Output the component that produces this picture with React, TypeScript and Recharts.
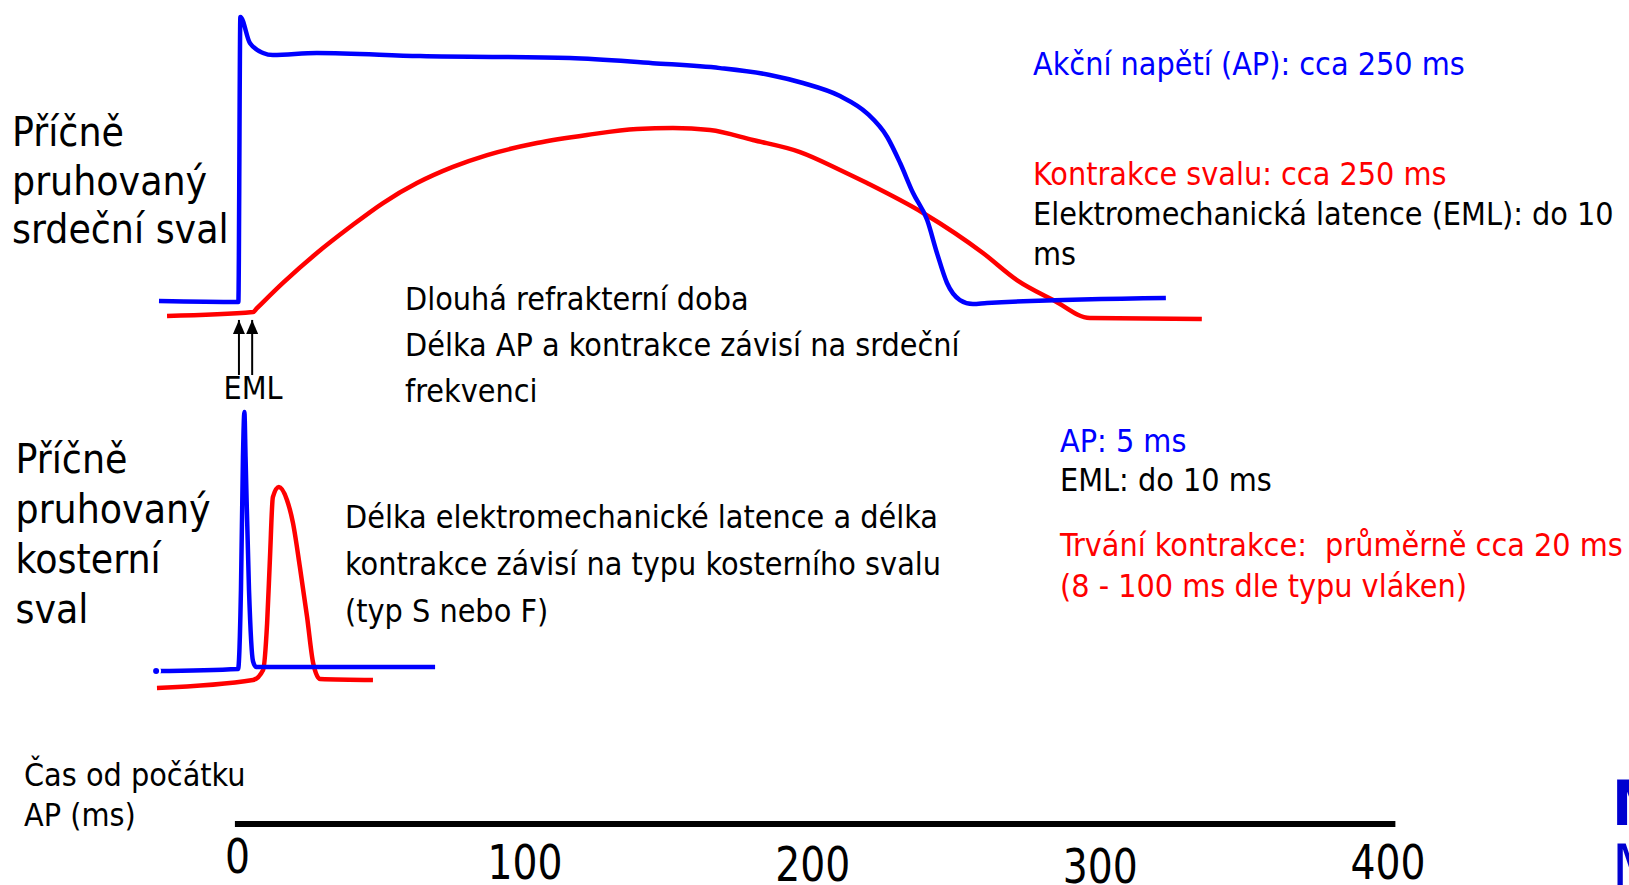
import React from 'react';
import { ComposedChart, Line, XAxis, YAxis, ReferenceLine, ReferenceDot } from 'recharts';

// Čas v ms, napětí v mV, síla kontrakce v % maxima
const HEART_AP_T = [-27.3, 0.3, 1.0, 4.3, 8.9, 12.3, 27.6, 63.5, 115.6, 144.4, 167.8, 185.1, 196.6, 209.5, 218.9, 225.9, 230.4, 234.9, 239.8, 243.2, 246.7, 251.2, 255.7, 260.6, 322.8];
const HEART_AP_MV = [-90, -90.4, 30, 19, 14.8, 13.9, 14.8, 13.5, 12.7, 10.5, 8.4, 5.5, 2.1, -3.4, -10.7, -20.7, -31.7, -44.4, -55.8, -69.7, -82.4, -89.6, -91.3, -90.8, -88.7];

const HEART_FORCE_T = [-24.5, 5.4, 6.6, 15.8, 27.6, 39.1, 50.6, 62.4, 74.9, 86.8, 104.1, 121.5, 138.9, 151.4, 164.3, 179.2, 195.6, 209.5, 218.9, 238.4, 259.2, 271.0, 283.6, 296.4, 335.3];
const HEART_FORCE = [0, 2.1, 3.9, 17.6, 33.5, 47.3, 60.1, 70.7, 79.3, 85.6, 92.0, 96.3, 99.5, 100, 98.9, 93.6, 87.2, 77.7, 70.7, 54.8, 33.5, 19.1, 8.5, -1.1, -1.6];

const SKEL_AP_T = [-28.3, 0.2, 1.2, 1.9, 2.4, 2.8, 4.0, 5.4, 6.5, 68.7];
const SKEL_AP_MV = [-90.5, -89.5, -52.8, 9.1, 30, 9.1, -52.8, -86, -88.6, -88.6];

const SKEL_FORCE_T = [-28.0, 5.4, 8.9, 10.3, 11.3, 12.3, 14.4, 17.2, 19.3, 21.7, 24.2, 26.3, 28.7, 47.1];
const SKEL_FORCE = [-4.1, 0, 5.2, 29.5, 63.7, 94.8, 100, 93.3, 81.3, 58.5, 32.6, 8.8, 0.5, 0];

const TIME_TICKS = [0, 100, 200, 300, 400];
const AXIS_SPAN = [-0.9, 402.6];
const EML_ARROWS_T = [0.5, 5.1];
const ARROW_TIP = -2.1;
const ARROW_TAIL = -31.4;

const zip = (t: number[], v: number[]) => t.map((x, i) => ({ t: x, v: v[i] }));

const W = 1629;
const H = 885;
const PLOT_H = 824;
const ZERO_PX = 237.5;
const PX_PER_MS = 2.876;
const FONT = "'DejaVu Sans Condensed', 'DejaVu Sans', sans-serif";
const BLUE = '#0000ff';
const RED = '#ff0000';

// doména skryté osy y tak, aby dvě hodnoty padly na dané pixely
function domainFrom(hiVal: number, hiPx: number, loVal: number, loPx: number): [number, number] {
  const k = (loPx - hiPx) / (hiVal - loVal);
  const max = hiVal + hiPx / k;
  return [max - PLOT_H / k, max];
}

const TICK_DY: Record<number, number> = { 0: 49, 100: 55, 200: 57, 300: 59, 400: 55 };

function TimeTick(props: any) {
  const { x, y, payload } = props;
  const label = String(payload.value);
  return (
    <text
      x={x}
      y={y + (TICK_DY[payload.value] ?? 55)}
      textAnchor="middle"
      fontFamily={FONT}
      fontSize={48}
      fill="#000"
      textLength={label.length * 25}
      lengthAdjust="spacingAndGlyphs"
    >
      {label}
    </text>
  );
}

function TextBlock({ x, baseline, size = 32, lh = 40, color = '#000', lines, center = false, bold = false }: any) {
  const top = baseline - ((lh - 1.164 * size) / 2 + 0.928 * size);
  return (
    <div
      style={{
        position: 'absolute',
        left: x,
        top,
        fontFamily: FONT,
        fontStretch: 'condensed',
        fontSize: size,
        fontWeight: bold ? 'bold' : 'normal',
        lineHeight: `${lh}px`,
        color,
        whiteSpace: 'pre',
        transform: center ? 'translateX(-50%)' : undefined,
        textAlign: center ? 'center' : 'left',
      }}
    >
      {lines.map((l: string, i: number) => (
        <div key={i}>{l}</div>
      ))}
    </div>
  );
}

export default function App() {
  return (
    <div style={{ position: 'absolute', left: 0, top: 0, width: W, height: H, overflow: 'hidden', background: '#fff' }}>
      <ComposedChart width={W} height={H} margin={{ top: 0, right: 0, bottom: 0, left: 0 }}>
        <XAxis
          type="number"
          dataKey="t"
          domain={[-ZERO_PX / PX_PER_MS, (W - ZERO_PX) / PX_PER_MS]}
          allowDataOverflow
          ticks={TIME_TICKS}
          height={H - PLOT_H}
          axisLine={false}
          tickLine={false}
          tickSize={0}
          tickMargin={0}
          tick={<TimeTick />}
          interval={0}
        />
        <YAxis yAxisId="heartAP" type="number" hide allowDataOverflow domain={domainFrom(30, 17, -90, 301)} />
        <YAxis yAxisId="heartForce" type="number" hide allowDataOverflow domain={domainFrom(100, 128, 0, 316)} />
        <YAxis yAxisId="skelAP" type="number" hide allowDataOverflow domain={domainFrom(30, 412, -90, 670)} />
        <YAxis yAxisId="skelForce" type="number" hide allowDataOverflow domain={domainFrom(100, 487, 0, 680)} />
        <YAxis yAxisId="base" type="number" hide allowDataOverflow domain={[0, 1]} />

        <ReferenceLine
          yAxisId="base"
          segment={[{ x: AXIS_SPAN[0], y: 0 }, { x: AXIS_SPAN[1], y: 0 }]}
          stroke="#000"
          strokeWidth={6}
        />

        <Line yAxisId="heartForce" data={zip(HEART_FORCE_T, HEART_FORCE)} dataKey="v" type="monotone" stroke={RED} strokeWidth={4.5} dot={false} isAnimationActive={false} />
        <Line yAxisId="heartAP" data={zip(HEART_AP_T, HEART_AP_MV)} dataKey="v" type="monotone" stroke={BLUE} strokeWidth={4.5} dot={false} isAnimationActive={false} />
        <Line yAxisId="skelForce" data={zip(SKEL_FORCE_T, SKEL_FORCE)} dataKey="v" type="monotone" stroke={RED} strokeWidth={4.5} dot={false} isAnimationActive={false} />
        <Line yAxisId="skelAP" data={zip(SKEL_AP_T, SKEL_AP_MV)} dataKey="v" type="monotone" stroke={BLUE} strokeWidth={4.5} dot={false} isAnimationActive={false} />

        {/* šipky EML */}
        {EML_ARROWS_T.map((t) => (
          <ReferenceLine
            key={`s-${t}`}
            yAxisId="heartForce"
            segment={[{ x: t, y: ARROW_TAIL }, { x: t, y: ARROW_TIP }]}
            stroke="#000"
            strokeWidth={2}
          />
        ))}
        {EML_ARROWS_T.map((t) => (
          <ReferenceDot
            key={`h-${t}`}
            yAxisId="heartForce"
            x={t}
            y={ARROW_TIP}
            shape={(p: any) => <path d={`M${p.cx},${p.cy} l6,14 l-12,0 z`} fill="#000" />}
          />
        ))}
      </ComposedChart>

      <TextBlock x={12} baseline={146.7} size={40.5} lh={48.5} lines={['Příčně', 'pruhovaný', 'srdeční sval']} />
      <TextBlock x={15.5} baseline={473} size={40.5} lh={50.2} lines={['Příčně', 'pruhovaný', 'kosterní', 'sval']} />

      <TextBlock x={1033} baseline={75} color={BLUE} lines={['Akční napětí (AP): cca 250 ms']} />
      <TextBlock x={1033} baseline={185} color={RED} lines={['Kontrakce svalu: cca 250 ms']} />
      <TextBlock x={1033} baseline={225} lines={['Elektromechanická latence (EML): do 10', 'ms']} />

      <TextBlock x={405} baseline={310} lh={46} lines={['Dlouhá refrakterní doba', 'Délka AP a kontrakce závisí na srdeční', 'frekvenci']} />
      <TextBlock x={345} baseline={529} lh={47} lines={['Délka elektromechanické latence a délka', 'kontrakce závisí na typu kosterního svalu', '(typ S nebo F)']} />

      <TextBlock x={1060} baseline={452} color={BLUE} lines={['AP: 5 ms']} />
      <TextBlock x={1060} baseline={491} lines={['EML: do 10 ms']} />
      <TextBlock x={1060} baseline={557} lh={41} color={RED} lines={['Trvání kontrakce:  průměrně cca 20 ms', '(8 - 100 ms dle typu vláken)']} />

      <TextBlock x={24} baseline={786} lh={40} lines={['Čas od počátku', 'AP (ms)']} />
      <TextBlock x={253} baseline={399} center lines={['EML']} />

      <TextBlock x={1612} baseline={825} size={62} lh={60} bold color="#0000d0" lines={['M']} />
      <TextBlock x={1612} baseline={889} size={62} lh={60} color="#0000d0" lines={['M']} />
    </div>
  );
}
